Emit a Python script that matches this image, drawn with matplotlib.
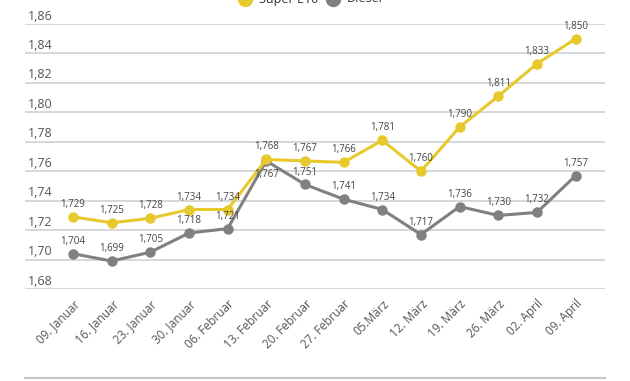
import matplotlib
matplotlib.use("Agg")
import matplotlib.pyplot as plt
from matplotlib.lines import Line2D

plt.rcParams['font.family'] = ['Open Sans', 'DejaVu Sans']

dates = ["09. Januar", "16. Januar", "23. Januar", "30. Januar", "06. Februar",
         "13. Februar", "20. Februar", "27. Februar", "05.März", "12. März",
         "19. März", "26. März", "02. April", "09. April"]
super_e10 = [1.729, 1.725, 1.728, 1.734, 1.734, 1.768, 1.767, 1.766, 1.781, 1.760,
             1.790, 1.811, 1.833, 1.850]
diesel = [1.704, 1.699, 1.705, 1.718, 1.721, 1.767, 1.751, 1.741, 1.734, 1.717,
          1.736, 1.730, 1.732, 1.757]
yticks = [1.68, 1.70, 1.72, 1.74, 1.76, 1.78, 1.80, 1.82, 1.84, 1.86]

yellow = '#e8c92c'
grey = '#808080'
txt = '#555555'

fig = plt.figure(figsize=(6.3, 3.81), dpi=100)
ax = fig.add_axes([25/630, 1-289/381, 580/630, 265/381])

x = list(range(len(dates)))
ax.plot(x, diesel, color=grey, lw=2.2, marker='o', ms=6.5, zorder=3)
ax.plot(x, super_e10, color=yellow, lw=2.2, marker='o', ms=6.5, zorder=4)

ax.set_xlim(-1.24, 13.76)
ax.set_ylim(1.68, 1.86)

for s in ax.spines.values():
    s.set_visible(False)
ax.set_yticks([])
for v in yticks:
    ax.axhline(v, color='#d4d4d4', lw=1.3, zorder=1)
    ax.text(0.005, v + 0.001, f"{v:.2f}".replace('.', ','), transform=ax.get_yaxis_transform(),
            fontsize=9, color=txt, va='bottom', ha='left')

ax.set_xticks(x)
ax.set_xticklabels(dates, rotation=45, ha='right', rotation_mode='anchor',
                   fontsize=8.5, color=txt)
ax.tick_params(axis='x', length=0, pad=6)

for i, (s, d) in enumerate(zip(super_e10, diesel)):
    ax.annotate(f"{s:.3f}".replace('.', ','), (i, s), xytext=(0, 5),
                textcoords='offset points', ha='center', va='bottom',
                fontsize=7, color='#444444', zorder=5)
    dy = -14 if i == 5 else 5
    ax.annotate(f"{d:.3f}".replace('.', ','), (i, d), xytext=(0, dy),
                textcoords='offset points', ha='center', va='bottom',
                fontsize=7, color='#444444', zorder=5)

# legend, cut at the top edge
ly = 1 + 1/381
fig.add_artist(Line2D([245/630], [ly], marker='o', ms=10, color=yellow, lw=0))
fig.add_artist(Line2D([333/630], [ly], marker='o', ms=10, color=grey, lw=0))
fig.text(259/630, ly, "Super E10", fontsize=9, color='#333333', va='center')
fig.text(347/630, ly, "Diesel", fontsize=9, color='#333333', va='center')

# bottom rule
fig.add_artist(Line2D([25/630, 605/630], [1-378/381]*2, color='#c8c8c8', lw=1.5))

fig.savefig("out.png", dpi=100, facecolor='white')
